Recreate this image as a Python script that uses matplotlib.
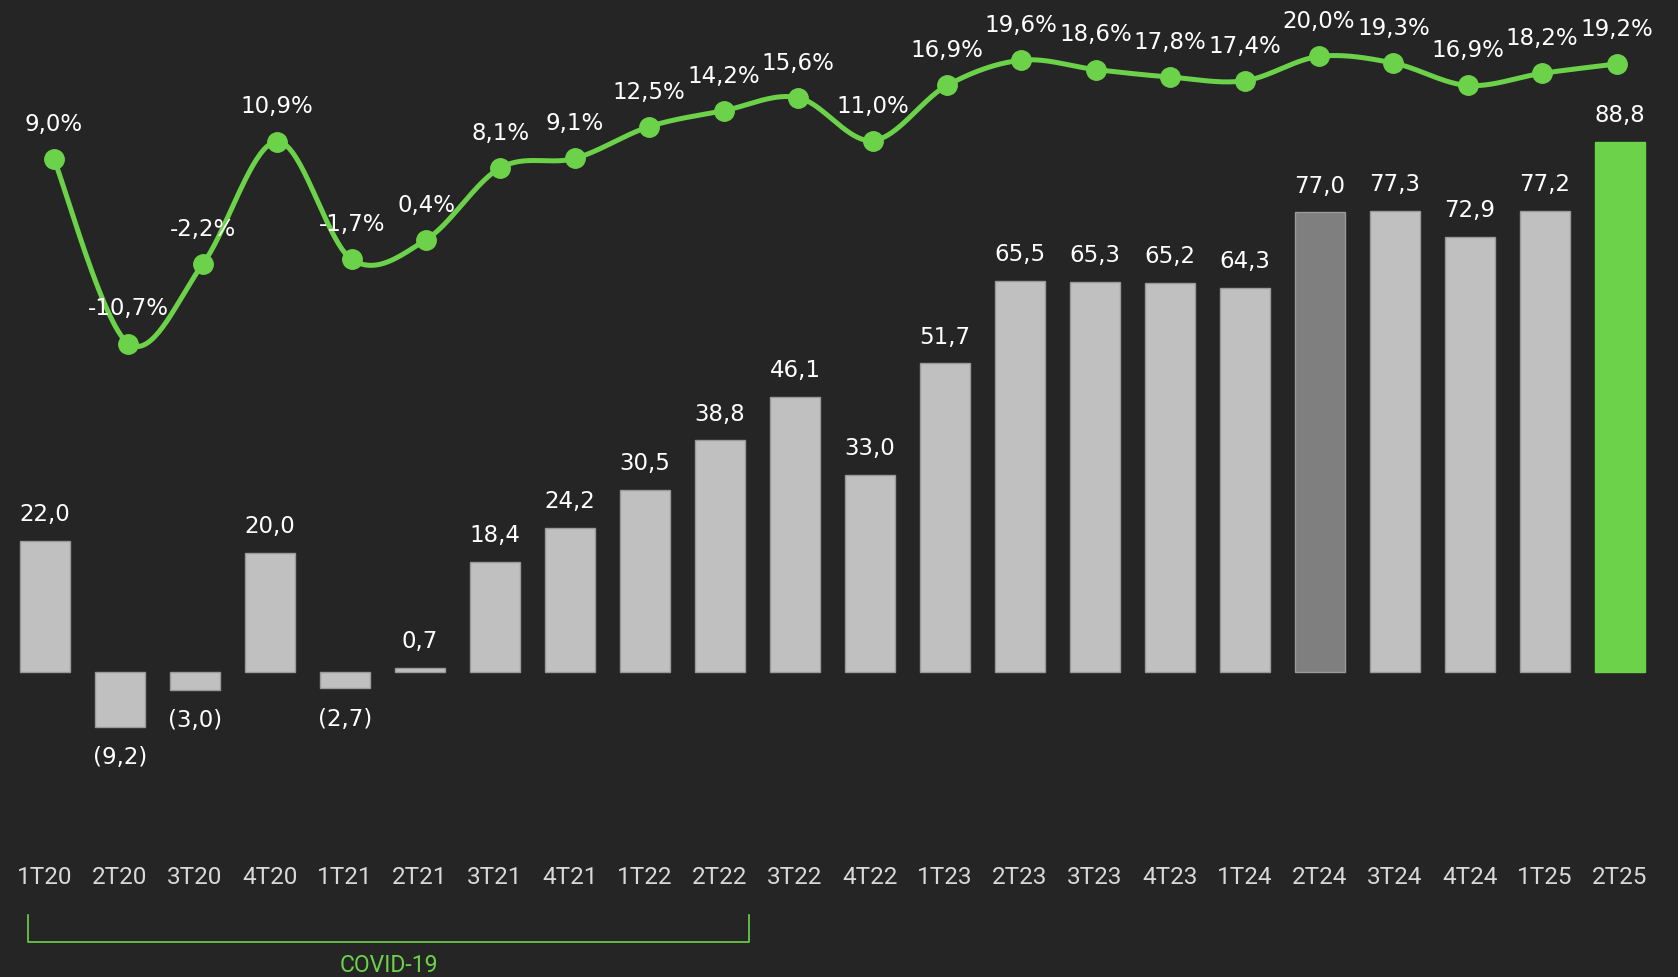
import numpy as np
import matplotlib
matplotlib.use("Agg")
import matplotlib.pyplot as plt
from matplotlib.transforms import blended_transform_factory

# Дані по кварталах
quarters = ["1T20", "2T20", "3T20", "4T20", "1T21", "2T21", "3T21", "4T21",
            "1T22", "2T22", "3T22", "4T22", "1T23", "2T23", "3T23", "4T23",
            "1T24", "2T24", "3T24", "4T24", "1T25", "2T25"]
values = [22.0, -9.2, -3.0, 20.0, -2.7, 0.7, 18.4, 24.2, 30.5, 38.8, 46.1,
          33.0, 51.7, 65.5, 65.3, 65.2, 64.3, 77.0, 77.3, 72.9, 77.2, 88.8]
margin = [9.0, -10.7, -2.2, 10.9, -1.7, 0.4, 8.1, 9.1, 12.5, 14.2, 15.6,
          11.0, 16.9, 19.6, 18.6, 17.8, 17.4, 20.0, 19.3, 16.9, 18.2, 19.2]
covid_span = ("1T20", "2T22")

BG = "#252525"
GREEN = "#6cd24a"
GREY = "#c0c0c0"
DARK_GREY = "#7f7f7f"
FONT = "Roboto"
VFONT = "DejaVu Sans"


def fmt(v, pct=False):
    s = f"{abs(v):.1f}".replace(".", ",")
    if pct:
        return ("-" if v < 0 else "") + s + "%"
    return f"({s})" if v < 0 else s


def smooth(xs, ys, n=40):
    """Згладжена лінія (Catmull-Rom) через задані точки."""
    p = np.column_stack([xs, ys]).astype(float)
    p = np.vstack([p[0], p, p[-1]])
    t = np.linspace(0, 1, n)[:, None]
    out = []
    for i in range(1, len(p) - 2):
        p0, p1, p2, p3 = p[i - 1], p[i], p[i + 1], p[i + 2]
        seg = 0.5 * ((2 * p1) + (-p0 + p2) * t
                     + (2 * p0 - 5 * p1 + 4 * p2 - p3) * t ** 2
                     + (-p0 + 3 * p1 - 3 * p2 + p3) * t ** 3)
        out.append(seg)
    out = np.vstack(out)
    return out[:, 0], out[:, 1]


fig = plt.figure(figsize=(16.78, 9.77), dpi=100, facecolor=BG)
ax = fig.add_axes([0, 0, 1, 1])
ax.set_facecolor(BG)
# окрема вісь для лінії, з власним кроком по x
ax2 = fig.add_axes([0, 0, 1, 1], label="margin")
ax2.patch.set_alpha(0)

x = np.arange(len(quarters))
colors = [GREY] * len(values)
colors[quarters.index("2T24")] = DARK_GREY
colors[-1] = GREEN
edges = ["#9a9a9a"] * len(values)
edges[-1] = GREEN

ax.bar(x, values, width=0.667, color=colors, edgecolor=edges, linewidth=1.0,
       zorder=2)
for xi, v in zip(x, values):
    if v >= 0:
        ax.text(xi, v + 4.4, fmt(v), ha="center", va="center", color="white",
                fontsize=16.5, family=VFONT)
    else:
        ax.text(xi, v - 5.2, fmt(v), ha="center", va="center", color="white",
                fontsize=16.5, family=VFONT)

ax.set_xlim(-0.6, 21.773)
ax.set_ylim(-51.09, 112.56)

# Рентабельність — згладжена лінія з маркерами
sx, sy = smooth(x, margin)
ax2.plot(sx, sy, color=GREEN, lw=3.6, zorder=3, solid_capstyle="round")
ax2.plot(x, margin, "o", color=GREEN, ms=14, zorder=4)
for xi, m in zip(x, margin):
    ax2.text(xi, m + 3.7, fmt(m, pct=True), ha="center", va="center",
             color="white", fontsize=16.5, family=VFONT, zorder=5)
ax2.set_xlim(-0.7257, 21.825)
ax2.set_ylim(-78.45, 26.04)

# Підписи кварталів
tr = blended_transform_factory(ax.transData, ax.transAxes)
for xi, q in zip(x, quarters):
    ax.text(xi, 1 - 877.5 / 977, q, transform=tr, ha="center", va="center",
            color="#d9d9d9", fontsize=17.5, family=FONT)

# Дужка COVID-19
i0, i1 = quarters.index(covid_span[0]), quarters.index(covid_span[1])
bx0, bx1 = i0 - 0.23, i1 + 0.39
ytop, ybot = 1 - 915 / 977, 1 - 942 / 977
ax.plot([bx0, bx0, bx1, bx1], [ytop, ybot, ybot, ytop], transform=tr,
        color=GREEN, lw=1.2, clip_on=False)
ax.text((bx0 + bx1) / 2, 1 - 966 / 977, "COVID-19", transform=tr,
        ha="center", va="center", color=GREEN, fontsize=16.5, family=FONT)

for a in (ax, ax2):
    a.axis("off")

fig.savefig("out.png", dpi=100, facecolor=BG)
